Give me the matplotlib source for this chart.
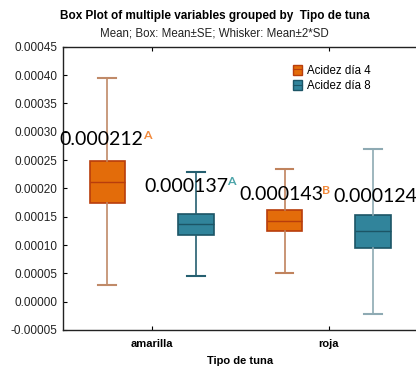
import matplotlib
matplotlib.use("Agg")
import matplotlib.pyplot as plt
from matplotlib.patches import Patch
from matplotlib.lines import Line2D

# ---- data ----
categories = ["amarilla", "roja"]
series = ["Acidez día 4", "Acidez día 8"]
# per series: values for [amarilla, roja]
means = {"Acidez día 4": [0.000212, 0.000143], "Acidez día 8": [0.000137, 0.000124]}
box_lo = {"Acidez día 4": [0.000175, 0.000125], "Acidez día 8": [0.000118, 0.000094]}
box_hi = {"Acidez día 4": [0.000249, 0.000161], "Acidez día 8": [0.000155, 0.000153]}
whisk_lo = {"Acidez día 4": [0.000029, 0.000051], "Acidez día 8": [0.0000455, -0.000021]}
whisk_hi = {"Acidez día 4": [0.000395, 0.000235], "Acidez día 8": [0.000228, 0.000269]}
label_text = {"Acidez día 4": ["0.000212", "0.000143"], "Acidez día 8": ["0.000137", "0.000124"]}
label_sup = {"Acidez día 4": ["A", "B"], "Acidez día 8": ["A", ""]}
yticks = [-0.00005, 0, 0.00005, 0.0001, 0.00015, 0.0002, 0.00025, 0.0003, 0.00035, 0.0004, 0.00045]

# ---- styles ----
fill = {"Acidez día 4": "#e36c0a", "Acidez día 8": "#31849b"}
edge = {"Acidez día 4": "#b83d0c", "Acidez día 8": "#1c5566"}
whisk_col = {"Acidez día 4": ["#c08a68", "#c0835d"], "Acidez día 8": ["#255f70", "#8eaab3"]}
sup_col = {"Acidez día 4": "#f28a3c", "Acidez día 8": "#4aa3a8"}
offsets = {"Acidez día 4": -0.25, "Acidez día 8": 0.25}
label_y = {"Acidez día 4": [0.0002765, 0.0001795], "Acidez día 8": [0.000194, 0.0001765]}
label_dx = {"Acidez día 4": [-5.5, -3.5], "Acidez día 8": [-10, 2]}  # pixels

fig = plt.figure(figsize=(4.16, 3.70), dpi=100)
ax = fig.add_axes([63 / 416, 40 / 370, 354.5 / 416, 283.3 / 370])

for s in series:
    stats = []
    for i, c in enumerate(categories):
        stats.append(dict(med=means[s][i], q1=box_lo[s][i], q3=box_hi[s][i],
                          whislo=whisk_lo[s][i], whishi=whisk_hi[s][i], fliers=[]))
    pos = [i + offsets[s] for i in range(len(categories))]
    bp = ax.bxp(stats, positions=pos, widths=0.2, patch_artist=True, showfliers=False,
                capwidths=0.1,
                boxprops=dict(facecolor=fill[s], edgecolor=edge[s], linewidth=1.2),
                medianprops=dict(color=edge[s], linewidth=1.0))
    for i in range(len(categories)):
        for w in bp["whiskers"][2 * i:2 * i + 2]:
            w.set_color(whisk_col[s][i]); w.set_linewidth(1.2)
        for cp in bp["caps"][2 * i:2 * i + 2]:
            cp.set_color(whisk_col[s][i]); cp.set_linewidth(1.5)
    for i in range(len(categories)):
        t = ax.annotate(label_text[s][i], xy=(pos[i], label_y[s][i]),
                        xytext=(label_dx[s][i] * 0.72, 0), textcoords="offset points",
                        ha="center", va="baseline", fontsize=14, family="Lato",
                        color="black", zorder=5)
        if label_sup[s][i]:
            ax.annotate(label_sup[s][i], xy=(1, 1), xycoords=t, xytext=(-0.6, 1.0),
                        textcoords="offset points", ha="left", va="top",
                        fontsize=8.8, family="Lato", fontweight="bold",
                        color=sup_col[s], zorder=5)

ax.set_xlim(-0.5, 1.5)
ax.set_ylim(-0.00005, 0.00045)
ax.set_yticks(yticks)
ax.set_yticklabels([f"{v:.5f}" for v in yticks], fontsize=8.5, family="Liberation Sans", color="#222222")
ax.set_xticks(range(len(categories)))
ax.set_xticklabels(categories, fontsize=8, family="Liberation Sans", fontweight="bold")
ax.tick_params(axis="both", direction="in", length=3, width=0.8, top=True, right=False)
ax.tick_params(axis="x", pad=6.5)
ax.tick_params(axis="y", pad=4)
for sp in ax.spines.values():
    sp.set_linewidth(1.0)
    sp.set_color("#222222")
ax.set_xlabel("Tipo de tuna", fontsize=8, family="Liberation Sans", fontweight="bold", labelpad=5)

fig.text(215 / 416, 1 - 19 / 370, "Box Plot of multiple variables grouped by  Tipo de tuna",
         ha="center", va="baseline", fontsize=8.5, family="Liberation Sans", fontweight="bold")
fig.text(214 / 416, 1 - 37 / 370, "Mean; Box: Mean±SE; Whisker: Mean±2*SD",
         ha="center", va="baseline", fontsize=8.3, family="Liberation Sans", color="#222222")

handles = [(Patch(facecolor=fill[s], edgecolor=edge[s], linewidth=1.0),
            Line2D([0], [0], color=edge[s], linewidth=0.8)) for s in series]
leg = ax.legend(handles, series, loc="upper left", bbox_to_anchor=((293 - 63) / 354.5, 1 - (65 - 47) / 283.3),
                frameon=False, prop={"family": "Liberation Sans", "size": 8.3},
                handlelength=0.8, handleheight=0.9, handletextpad=0.4, labelspacing=0.3,
                borderpad=0, borderaxespad=0)

fig.savefig("out.png", dpi=100)
